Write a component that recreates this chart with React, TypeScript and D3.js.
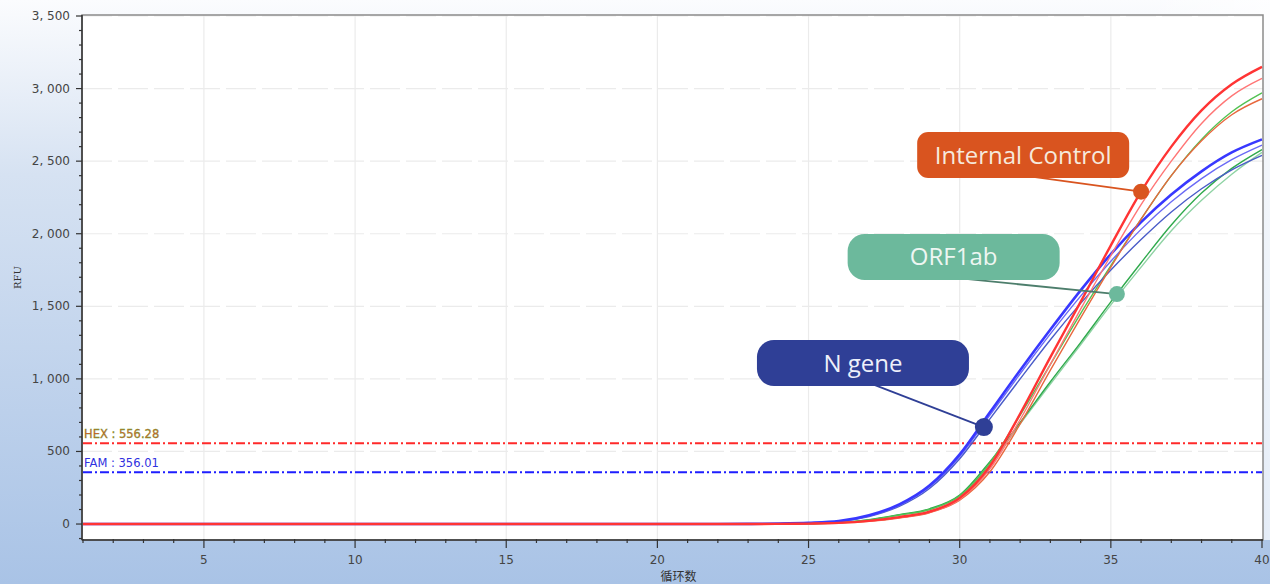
import * as React from 'react';
import * as d3 from 'd3';

// amplification cycles 1..40
const cycles = d3.range(1, 41);

// FAM (N gene)
const famA = [0, 0, 0, 0, 0, 0, 0, 0, 0, 0, 0, 0, 0, 0, 0, 0, 0, 0, 0, 0, 0, 0, 1, 3, 8, 20, 60, 135, 265, 480, 770, 1060, 1340, 1610, 1860, 2080, 2270, 2430, 2560, 2650];
const famB = [0, 0, 0, 0, 0, 0, 0, 0, 0, 0, 0, 0, 0, 0, 0, 0, 0, 0, 0, 0, 0, 0, 1, 3, 7, 18, 55, 128, 255, 465, 750, 1035, 1310, 1570, 1810, 2030, 2220, 2380, 2510, 2610];
const famC = [0, 0, 0, 0, 0, 0, 0, 0, 0, 0, 0, 0, 0, 0, 0, 0, 0, 0, 0, 0, 0, 0, 1, 3, 7, 17, 52, 122, 245, 450, 725, 1000, 1270, 1520, 1750, 1960, 2150, 2310, 2440, 2540];
// HEX (ORF1ab)
const hexA = [0, 0, 0, 0, 0, 0, 0, 0, 0, 0, 0, 0, 0, 0, 0, 0, 0, 0, 0, 0, 0, 0, 0, 1, 3, 9, 28, 62, 100, 195, 420, 750, 1100, 1450, 1780, 2100, 2400, 2650, 2840, 2970];
const hexB = [0, 0, 0, 0, 0, 0, 0, 0, 0, 0, 0, 0, 0, 0, 0, 0, 0, 0, 0, 0, 0, 0, 0, 1, 3, 9, 30, 65, 105, 200, 430, 700, 980, 1250, 1530, 1800, 2060, 2280, 2450, 2580];
const hexC = [0, 0, 0, 0, 0, 0, 0, 0, 0, 0, 0, 0, 0, 0, 0, 0, 0, 0, 0, 0, 0, 0, 0, 1, 3, 8, 26, 60, 98, 190, 405, 690, 965, 1235, 1510, 1770, 2020, 2230, 2410, 2560];
// Cy5 (internal control)
const cy5A = [0, 0, 0, 0, 0, 0, 0, 0, 0, 0, 0, 0, 0, 0, 0, 0, 0, 0, 0, 0, 0, 0, 0, 1, 3, 8, 22, 48, 85, 180, 400, 760, 1150, 1530, 1920, 2290, 2600, 2850, 3030, 3150];
const cy5B = [0, 0, 0, 0, 0, 0, 0, 0, 0, 0, 0, 0, 0, 0, 0, 0, 0, 0, 0, 0, 0, 0, 0, 1, 3, 7, 20, 44, 80, 170, 380, 720, 1100, 1480, 1850, 2200, 2500, 2760, 2950, 3070];
const cy5C = [0, 0, 0, 0, 0, 0, 0, 0, 0, 0, 0, 0, 0, 0, 0, 0, 0, 0, 0, 0, 0, 0, 0, 1, 2, 6, 18, 42, 78, 165, 360, 690, 1060, 1420, 1770, 2100, 2400, 2640, 2820, 2930];

const curves = [
  { values: hexC, color: '#8fd3a4', width: 1.4 },
  { values: hexB, color: '#2faa4c', width: 1.4 },
  { values: hexA, color: '#52c252', width: 1.4 },
  { values: famC, color: '#4a5cc8', width: 1.4 },
  { values: famB, color: '#6a6af5', width: 1.4 },
  { values: famA, color: '#3838ff', width: 2.6 },
  { values: cy5C, color: '#e8683e', width: 1.4 },
  { values: cy5B, color: '#ff7676', width: 1.4 },
  { values: cy5A, color: '#ff3434', width: 2.4 },
];

const thresholds = [
  { value: 556.28, color: '#ff2a2a', label: 'HEX : 556.28', fill: '#e0502a', stroke: '#5fa830' },
  { value: 356.01, color: '#1e1eff', label: 'FAM : 356.01', fill: '#3030e0', stroke: 'none' },
];

const callouts = [
  { label: 'Internal Control', fill: '#d9541f', line: '#d9541f', textFill: '#f6e9dc', box: [32.1, 2542], dot: [36, 2290], r: 8, rx: 11 },
  { label: 'ORF1ab', fill: '#6cb99c', line: '#4d7e6c', textFill: '#eef6f2', box: [29.8, 1840], dot: [35.2, 1584], r: 8, rx: 17 },
  { label: 'N gene', fill: '#2f3f96', line: '#2f3f96', textFill: '#eef0fa', box: [26.8, 1109], dot: [30.8, 668], r: 9, rx: 17 },
];

const yMajor = d3.range(0, 3501, 500);
const yMinor = d3.range(-100, 3501, 100);
const xMajor = [5, 10, 15, 20, 25, 30, 35, 40];

const W = 1270;
const H = 584;
const L = 82;
const R = 1263;
const T = 15;
const B = 540;

export default function App() {
  const x = d3.scaleLinear().domain([1, 40]).range([L + 1, R - 1]);
  const y = d3.scaleLinear().domain([-110, 3500]).range([B, T + 1]);
  const line = d3
    .line<number>()
    .x((_, i) => x(cycles[i]))
    .y((d) => y(d))
    .curve(d3.curveMonotoneX);
  const fmt = (v: number) => d3.format(',')(v).replace(',', ', ');
  const boxW = 212;
  const boxH = 46;

  return (
    <svg width={W} height={H} style={{ position: 'fixed', left: 0, top: 0 }} fontFamily="'DejaVu Sans', sans-serif">
      <defs>
        <linearGradient id="bg" x1="0" y1="0" x2="0" y2="1">
          <stop offset="0" stopColor="#fbfcfe" />
          <stop offset="0.3" stopColor="#d6e2f2" />
          <stop offset="1" stopColor="#a9c3e6" />
        </linearGradient>
        <linearGradient id="bgh" x1="0" y1="0" x2="1" y2="0">
          <stop offset="0" stopColor="#ffffff" stopOpacity="0" />
          <stop offset="0.9" stopColor="#ffffff" stopOpacity="0" />
          <stop offset="1" stopColor="#ffffff" stopOpacity="0.7" />
        </linearGradient>
      </defs>
      <rect width={W} height={H} fill="url(#bg)" />
      <rect width={W} height={B} fill="url(#bgh)" />
      <rect x={L} y={T} width={R - L} height={B - T} fill="#ffffff" />

      {/* grid */}
      <g stroke="#ebebeb" strokeWidth={1.2}>
        {xMajor.slice(0, -1).map((c) => (
          <line key={'gx' + c} x1={x(c)} x2={x(c)} y1={T} y2={B} />
        ))}
        {yMajor.slice(1).map((v) => (
          <line key={'gy' + v} x1={L} x2={R} y1={y(v)} y2={y(v)} strokeDasharray="30,6" />
        ))}
      </g>

      {/* thresholds */}
      {thresholds.map((t) => (
        <g key={t.value}>
          <line x1={L + 1} x2={R - 1} y1={y(t.value)} y2={y(t.value)} stroke={t.color} strokeWidth={2} strokeDasharray="9,3,2,3" />
          <text x={L + 2} y={y(t.value) - 5} fontSize={11.5} fill={t.fill} stroke={t.stroke} strokeWidth={0.35}>
            {t.label}
          </text>
        </g>
      ))}

      {/* curves */}
      <g fill="none" strokeLinejoin="round">
        {curves.map((c, i) => (
          <path key={i} d={line(c.values) || ''} stroke={c.color} strokeWidth={c.width} />
        ))}
      </g>

      {/* frame */}
      <rect x={L} y={T} width={R - L} height={B - T} fill="none" stroke="#8a8a8a" strokeWidth={1.5} />
      <line x1={L} x2={L} y1={T} y2={B} stroke="#333" strokeWidth={1.5} />
      <line x1={L} x2={R} y1={B} y2={B} stroke="#333" strokeWidth={1.5} />

      {/* y axis */}
      <g stroke="#333" strokeWidth={1.2}>
        {yMinor.map((v) => (
          <line key={'ym' + v} x1={L - (v % 500 === 0 ? 6 : 3)} x2={L} y1={y(v)} y2={y(v)} />
        ))}
      </g>
      <g fontSize={12} fill="#444" textAnchor="end">
        {yMajor.map((v) => (
          <text key={'yl' + v} x={L - 12} y={y(v) + 4}>
            {fmt(v)}
          </text>
        ))}
      </g>
      <text transform={`translate(21,${(T + B) / 2}) rotate(-90)`} fontSize={10} fontFamily="'DejaVu Serif', serif" textAnchor="middle" fill="#333">
        RFU
      </text>

      {/* x axis */}
      <g stroke="#333" strokeWidth={1.2}>
        {cycles.map((c) => (
          <line key={'xm' + c} x1={x(c)} x2={x(c)} y1={B - 1} y2={B + (c % 5 === 0 ? 8 : 3)} />
        ))}
      </g>
      <g fontSize={12} fill="#444" textAnchor="middle">
        {xMajor.map((c) => (
          <text key={'xl' + c} x={x(c)} y={B + 24}>
            {c}
          </text>
        ))}
      </g>
      <text x={x(20.7)} y={581} fontSize={12} textAnchor="middle" fill="#333" fontFamily="'Noto Sans CJK SC', sans-serif">
        循环数
      </text>

      {/* callouts */}
      {callouts.map((c) => {
        const bx = x(c.box[0]);
        const by = y(c.box[1]);
        const dx = x(c.dot[0]);
        const dy = y(c.dot[1]);
        return (
          <g key={c.label}>
            <line x1={bx + 12} y1={by + boxH / 2 - 1} x2={dx} y2={dy} stroke={c.line} strokeWidth={1.8} />
            <rect x={bx - boxW / 2} y={by - boxH / 2} width={boxW} height={boxH} rx={c.rx} fill={c.fill} />
            <circle cx={dx} cy={dy} r={c.r} fill={c.fill} />
            <text x={bx} y={by + 8.5} fontSize={24} fontFamily="'Open Sans', sans-serif" textAnchor="middle" fill={c.textFill}>
              {c.label}
            </text>
          </g>
        );
      })}
    </svg>
  );
}
